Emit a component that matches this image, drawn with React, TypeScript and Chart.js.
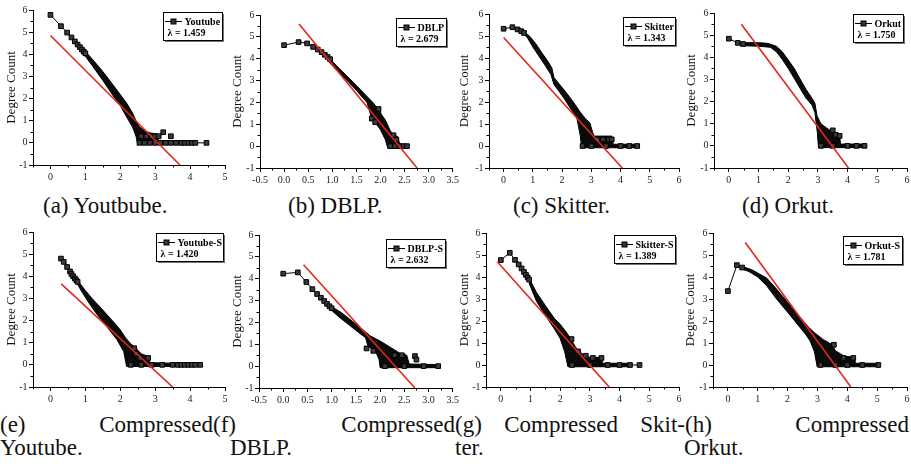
import React, { useEffect, useRef } from 'react';
import { Chart, registerables } from 'chart.js';
Chart.register(...registerables);

type Pt = [number, number];

// ---------- data (log10 degree vs log10 count) ----------
const Y_TICKS = [-1, 0, 1, 2, 3, 4, 5, 6];
const X_TICKS_5 = [0, 1, 2, 3, 4, 5];
const X_TICKS_6 = [0, 1, 2, 3, 4, 5, 6];
const X_TICKS_35 = [-0.5, 0, 0.5, 1, 1.5, 2, 2.5, 3, 3.5];

const NAMES = ['Youtube', 'DBLP', 'Skitter', 'Orkut', 'Youtube-S', 'DBLP-S', 'Skitter-S', 'Orkut-S'];
const LAMBDAS = ['1.459', '2.679', '1.343', '1.750', '1.420', '2.632', '1.389', '1.781'];

// (a) Youtube
const YT_HEAD: Pt[] = [[0, 5.78], [0.301, 5.27], [0.477, 4.98], [0.602, 4.76], [0.699, 4.58], [0.778, 4.44], [0.845, 4.32], [0.903, 4.21], [0.954, 4.12], [1.0, 4.04]];
const YT_BAND: Pt[] = [[0.95, 4.22], [1.2, 3.78], [1.5, 3.22], [1.8, 2.6], [2.0, 2.18], [2.2, 1.75], [2.35, 1.35], [2.45, 1.0], [2.55, 0.72], [2.7, 0.55], [2.85, 0.45], [3.05, 0.4], [3.1, 0.1], [3.7, 0.07],
  [3.7, -0.07], [2.5, -0.07], [2.45, 0.3], [2.35, 0.72], [2.2, 1.12], [2.0, 1.68], [1.8, 2.12], [1.5, 2.82], [1.2, 3.48], [0.95, 4.02]];
const YT_TAIL: Pt[] = [[2.55, 0], [2.7, 0], [2.85, 0], [3.0, 0], [3.15, 0], [3.3, 0], [3.45, 0], [3.6, 0], [3.75, 0], [3.85, 0], [3.95, 0], [4.05, 0], [4.15, 0], [4.47, 0]];
const YT_OUT: Pt[] = [[2.6, 0.3], [2.75, 0.3], [2.9, 0.3], [3.0, 0.3], [3.1, 0.3], [3.23, 0.48], [3.45, 0.3]];
const YT_FIT: Pt[] = [[0, 4.85], [3.71, -1]];

// (b) DBLP
const DB_HEAD: Pt[] = [[0, 4.62], [0.301, 4.76], [0.477, 4.7], [0.602, 4.54], [0.699, 4.42], [0.778, 4.3], [0.845, 4.18], [0.903, 4.08], [0.954, 3.98]];
const DB_BAND: Pt[] = [[0.9, 4.12], [1.1, 3.65], [1.3, 3.22], [1.5, 2.78], [1.7, 2.32], [1.85, 1.98], [1.92, 1.78], [1.97, 1.72], [2.02, 1.45], [2.1, 1.2], [2.2, 0.72], [2.27, 0.5], [2.35, 0.45], [2.4, 0.1], [2.55, 0.06],
  [2.55, -0.07], [2.15, -0.07], [2.1, 0.3], [2.0, 0.75], [1.9, 1.05], [1.82, 1.25], [1.72, 2.0], [1.5, 2.55], [1.3, 3.02], [1.1, 3.45], [0.9, 3.92]];
const DB_TAIL: Pt[] = [[2.2, 0], [2.3, 0], [2.4, 0], [2.48, 0], [2.55, 0]];
const DB_OUT: Pt[] = [[1.82, 1.26], [1.89, 1.1], [1.96, 1.7], [2.27, 0.5], [2.33, 0.3]];
const DB_FIT: Pt[] = [[0.31, 5.59], [2.76, -1]];

// (c) Skitter
const SK_HEAD: Pt[] = [[0, 5.33], [0.301, 5.4], [0.477, 5.3], [0.602, 5.22], [0.699, 5.14]];
const SK_BAND: Pt[] = [[0.68, 5.22], [0.9, 4.98], [1.1, 4.65], [1.3, 4.25], [1.5, 3.88], [1.65, 3.55], [1.72, 3.12], [1.9, 2.82], [2.1, 2.5], [2.3, 2.15], [2.45, 1.87], [2.6, 1.58], [2.78, 1.27], [2.95, 1.05], [3.05, 0.6], [3.1, 0.45], [3.7, 0.45], [3.75, 0.08], [4.57, 0.08],
  [4.57, -0.08], [2.67, -0.08], [2.62, 0.5], [2.5, 1.3], [2.3, 1.68], [2.1, 2.1], [1.9, 2.48], [1.72, 2.8], [1.62, 3.25], [1.4, 3.7], [1.2, 4.1], [1.0, 4.5], [0.8, 4.95], [0.68, 5.08]];
const SK_TAIL: Pt[] = [[2.7, 0], [3.0, 0], [3.5, 0], [4.0, 0], [4.3, 0], [4.57, 0]];
const SK_OUT: Pt[] = [[3.2, 0.3], [3.4, 0.3], [3.6, 0.3], [3.7, 0.3]];
const SK_FIT: Pt[] = [[0, 4.93], [4.06, -1]];

// (d) Orkut
const OR_HEAD: Pt[] = [[0, 4.84], [0.301, 4.65], [0.477, 4.6]];
const OR_BAND: Pt[] = [[0.5, 4.66], [1.0, 4.66], [1.3, 4.63], [1.6, 4.5], [1.8, 4.25], [2.0, 3.88], [2.2, 3.5], [2.4, 3.02], [2.6, 2.55], [2.8, 2.15], [2.9, 1.92], [2.97, 1.35], [3.1, 1.0], [3.3, 0.8], [3.5, 0.62], [3.73, 0.52], [3.76, 0.08], [4.57, 0.08],
  [4.57, -0.08], [3.02, -0.08], [2.98, 0.6], [2.9, 1.5], [2.8, 1.85], [2.6, 2.15], [2.4, 2.6], [2.2, 3.05], [2.0, 3.5], [1.8, 3.9], [1.6, 4.25], [1.4, 4.45], [1.0, 4.5], [0.5, 4.52]];
const OR_TAIL: Pt[] = [[3.1, 0], [3.5, 0], [4.0, 0], [4.3, 0], [4.57, 0]];
const OR_OUT: Pt[] = [[3.5, 0.7], [3.6, 0.5], [3.73, 0.45]];
const OR_FIT: Pt[] = [[0.42, 5.49], [4.03, -1]];

// (e) Youtube-S
const YS_HEAD: Pt[] = [[0.301, 4.8], [0.38, 4.65], [0.477, 4.42], [0.56, 4.22], [0.602, 4.1], [0.65, 4.0], [0.699, 3.9], [0.74, 3.82], [0.778, 3.75]];
const YS_BAND: Pt[] = [[0.77, 3.82], [1.0, 3.36], [1.2, 2.98], [1.4, 2.65], [1.6, 2.3], [1.8, 1.95], [2.0, 1.58], [2.15, 1.22], [2.3, 0.95], [2.45, 0.75], [2.6, 0.5], [2.8, 0.38], [2.85, 0.1], [3.6, 0.07],
  [3.6, -0.07], [2.18, -0.07], [2.1, 0.6], [1.9, 1.15], [1.7, 1.55], [1.5, 1.95], [1.3, 2.35], [1.1, 2.8], [0.9, 3.3], [0.77, 3.65]];
const YS_TAIL: Pt[] = [[2.3, 0], [2.6, 0], [2.9, 0], [3.2, 0], [3.5, 0], [3.65, 0], [3.75, 0], [3.85, 0], [3.95, 0], [4.05, 0], [4.15, 0], [4.29, 0]];
const YS_OUT: Pt[] = [[2.4, 0.75], [2.45, 0.5], [2.57, 0.31], [2.8, 0.31]];
const YS_FIT: Pt[] = [[0.31, 3.66], [3.5, -1]];

// (f) DBLP-S
const DS_HEAD: Pt[] = [[0, 4.23], [0.301, 4.29], [0.477, 3.85], [0.602, 3.52], [0.699, 3.3], [0.778, 3.13], [0.845, 2.98], [0.903, 2.85], [0.954, 2.74], [1.0, 2.65]];
const DS_BAND: Pt[] = [[1.0, 2.72], [1.2, 2.45], [1.4, 2.1], [1.6, 1.75], [1.8, 1.38], [2.0, 1.15], [2.2, 0.88], [2.4, 0.6], [2.55, 0.5], [2.6, 0.1], [3.2, 0.07],
  [3.2, -0.07], [2.0, -0.07], [1.98, 0.3], [1.9, 0.7], [1.75, 0.9], [1.7, 1.3], [1.55, 1.55], [1.35, 1.9], [1.15, 2.25], [1.0, 2.55]];
const DS_TAIL: Pt[] = [[2.1, 0], [2.5, 0], [2.9, 0], [3.2, 0]];
const DS_OUT: Pt[] = [[1.72, 0.81], [1.86, 0.7], [2.3, 0.5], [2.45, 0.5], [2.72, 0.46], [2.75, 0.3]];
const DS_FIT: Pt[] = [[0.42, 4.64], [2.72, -1]];

// (g) Skitter-S
const SS_HEAD: Pt[] = [[0, 4.77], [0.301, 5.1], [0.477, 4.78], [0.602, 4.57], [0.699, 4.39], [0.778, 4.23], [0.845, 4.1], [0.903, 3.98], [0.954, 3.88]];
const SS_BAND: Pt[] = [[0.95, 3.95], [1.2, 3.3], [1.5, 2.7], [1.8, 2.12], [2.0, 1.85], [2.2, 1.5], [2.35, 1.2], [2.5, 0.85], [2.6, 0.65], [2.8, 0.45], [3.0, 0.35], [3.4, 0.35], [3.42, 0.08], [4.35, 0.08],
  [4.35, -0.08], [2.26, -0.08], [2.15, 0.6], [2.0, 1.2], [1.8, 1.65], [1.5, 2.25], [1.2, 2.9], [0.95, 3.72]];
const SS_TAIL: Pt[] = [[2.4, 0], [3.0, 0], [3.6, 0], [4.0, 0], [4.35, 0], [4.67, 0]];
const SS_OUT: Pt[] = [[2.38, 1.18], [2.6, 0.62], [2.86, 0.42], [3.1, 0.32], [3.39, 0.32]];
const SS_FIT: Pt[] = [[-0.12, 4.69], [3.65, -1]];

// (h) Orkut-S
const OS_HEAD: Pt[] = [[0, 3.36], [0.301, 4.54], [0.477, 4.43]];
const OS_BAND: Pt[] = [[0.5, 4.47], [0.8, 4.33], [1.0, 4.18], [1.3, 3.95], [1.6, 3.5], [2.0, 2.85], [2.4, 2.2], [2.7, 1.72], [2.9, 1.47], [3.2, 1.15], [3.5, 0.92], [3.6, 0.65], [3.9, 0.4], [4.25, 0.35], [4.27, 0.08], [5.05, 0.08],
  [5.05, -0.08], [2.99, -0.08], [2.9, 0.6], [2.75, 1.1], [2.6, 1.4], [2.3, 1.9], [2.0, 2.4], [1.6, 3.05], [1.3, 3.6], [1.0, 4.0], [0.7, 4.25], [0.5, 4.35]];
const OS_TAIL: Pt[] = [[3.1, 0], [3.6, 0], [4.0, 0], [4.5, 0], [5.04, 0]];
const OS_OUT: Pt[] = [[3.55, 0.92], [3.87, 0.32], [4.2, 0.32]];
const OS_FIT: Pt[] = [[0.58, 5.57], [4.12, -1]];

const CAPTIONS_TOP = ['(a) Youtbube.', '(b) DBLP.', '(c) Skitter.', '(d) Orkut.'];
const CAPTIONS_BOTTOM_1 = ['(e) Compressed', '(f) Compressed', '(g) Compressed Skit-', '(h) Compressed'];
const CAPTIONS_BOTTOM_2 = ['Youtube.', 'DBLP.', 'ter.', 'Orkut.'];

// ---------- layout ----------
const FONT = '"Liberation Serif", "Times New Roman", serif';
const PAD_T = 8;
const PAD_R = 8;
const X_AXIS_H = 22;

interface PanelCfg {
  name: string; lambda: string;
  head: Pt[]; band: Pt[]; tail: Pt[]; out: Pt[]; fit: Pt[];
  xMin: number; xMax: number; xTicks: number[]; dec: number;
  cl: number; L: number; R: number; T: number; B: number;
  lx: number; ly: number;
}

const PANELS: PanelCfg[] = [
  { name: NAMES[0], lambda: LAMBDAS[0], head: YT_HEAD, band: YT_BAND, tail: YT_TAIL, out: YT_OUT, fit: YT_FIT, xMin: -0.5, xMax: 5, xTicks: X_TICKS_5, dec: 0, cl: 0, L: 33, R: 225, T: 10, B: 165, lx: 3, ly: 2 },
  { name: NAMES[1], lambda: LAMBDAS[1], head: DB_HEAD, band: DB_BAND, tail: DB_TAIL, out: DB_OUT, fit: DB_FIT, xMin: -0.5, xMax: 3.5, xTicks: X_TICKS_35, dec: 1, cl: 226, L: 260, R: 453, T: 15, B: 168, lx: 7, ly: 3 },
  { name: NAMES[2], lambda: LAMBDAS[2], head: SK_HEAD, band: SK_BAND, tail: SK_TAIL, out: SK_OUT, fit: SK_FIT, xMin: -0.5, xMax: 6, xTicks: X_TICKS_6, dec: 0, cl: 453, L: 489, R: 679, T: 14, B: 168, lx: 4, ly: 3 },
  { name: NAMES[3], lambda: LAMBDAS[3], head: OR_HEAD, band: OR_BAND, tail: OR_TAIL, out: OR_OUT, fit: OR_FIT, xMin: -0.5, xMax: 6, xTicks: X_TICKS_6, dec: 0, cl: 680, L: 714, R: 907, T: 13, B: 168, lx: 4, ly: 1 },
  { name: NAMES[4], lambda: LAMBDAS[4], head: YS_HEAD, band: YS_BAND, tail: YS_TAIL, out: YS_OUT, fit: YS_FIT, xMin: -0.5, xMax: 5, xTicks: X_TICKS_5, dec: 0, cl: 0, L: 33, R: 225, T: 232, B: 387, lx: 2, ly: 1 },
  { name: NAMES[5], lambda: LAMBDAS[5], head: DS_HEAD, band: DS_BAND, tail: DS_TAIL, out: DS_OUT, fit: DS_FIT, xMin: -0.5, xMax: 3.5, xTicks: X_TICKS_35, dec: 1, cl: 226, L: 259, R: 453, T: 235, B: 388, lx: 8, ly: 4 },
  { name: NAMES[6], lambda: LAMBDAS[6], head: SS_HEAD, band: SS_BAND, tail: SS_TAIL, out: SS_OUT, fit: SS_FIT, xMin: -0.5, xMax: 6, xTicks: X_TICKS_6, dec: 0, cl: 453, L: 486, R: 679, T: 233, B: 387, lx: 4, ly: 2 },
  { name: NAMES[7], lambda: LAMBDAS[7], head: OS_HEAD, band: OS_BAND, tail: OS_TAIL, out: OS_OUT, fit: OS_FIT, xMin: -0.5, xMax: 6, xTicks: X_TICKS_6, dec: 0, cl: 679, L: 713, R: 907, T: 233, B: 387, lx: 5, ly: 3 },
];

const toXY = (a: Pt[]) => a.map(([x, y]) => ({ x, y }));

const legendBox = {
  id: 'legendBox',
  afterDatasetsDraw(chart: any, _a: any, o: any) {
    const { ctx, chartArea: ca } = chart;
    ctx.save();
    ctx.font = `bold 10px ${FONT}`;
    const nameW = ctx.measureText(o.name).width;
    const lam = 'λ = ' + o.lambda;
    const lamW = ctx.measureText(lam).width;
    const w = Math.round(Math.max(nameW + 23, lamW + 8));
    const h = 28;
    const x = Math.round(ca.right - o.dx - w) + 0.5;
    const y = Math.round(ca.top + o.dy) + 0.5;
    ctx.fillStyle = '#777';
    ctx.fillRect(x + 1.5, y + 1.5, w, h);
    ctx.fillStyle = '#fff';
    ctx.fillRect(x, y, w, h);
    ctx.strokeStyle = '#000';
    ctx.lineWidth = 1;
    ctx.strokeRect(x, y, w, h);
    ctx.beginPath();
    ctx.moveTo(x + 1.5, y + 9);
    ctx.lineTo(x + 18.5, y + 9);
    ctx.stroke();
    ctx.fillStyle = '#333';
    ctx.fillRect(x + 7.5, y + 6.5, 5, 5);
    ctx.strokeRect(x + 7.5, y + 6.5, 5, 5);
    ctx.fillStyle = '#000';
    ctx.textBaseline = 'middle';
    ctx.textAlign = 'left';
    ctx.fillText(o.name, x + 21, y + 9.5);
    ctx.fillText(lam, x + 4, y + 21);
    ctx.restore();
  },
};

const minorTicks = {
  id: 'minorTicks',
  afterDraw(chart: any) {
    const { ctx } = chart;
    const xs = chart.scales.x;
    const ys = chart.scales.y;
    ctx.save();
    ctx.strokeStyle = '#000';
    ctx.lineWidth = 1;
    ctx.beginPath();
    const xv = xs.ticks.map((t: any) => t.value);
    const xstep = xv[1] - xv[0];
    for (let v = xv[0] - xstep / 2; v <= xs.max + 1e-9; v += xstep) {
      if (v < xs.min - 1e-9) continue;
      const px = Math.round(xs.getPixelForValue(v)) + 0.5;
      ctx.moveTo(px, xs.top);
      ctx.lineTo(px, xs.top + 2.5);
    }
    const yv = ys.ticks.map((t: any) => t.value);
    const ystep = yv[1] - yv[0];
    for (let v = yv[0] - ystep / 2; v <= ys.max + 1e-9; v += ystep) {
      if (v < ys.min - 1e-9) continue;
      const py = Math.round(ys.getPixelForValue(v)) + 0.5;
      ctx.moveTo(ys.right, py);
      ctx.lineTo(ys.right - 2.5, py);
    }
    ctx.stroke();
    ctx.restore();
  },
};

const MARK = { pointStyle: 'rect', pointRadius: 3.3, pointBackgroundColor: '#3a3a3a', pointBorderColor: '#000', pointBorderWidth: 1 };

function Panel({ p }: { p: PanelCfg }) {
  const ref = useRef<HTMLCanvasElement>(null);
  const ct = p.T - PAD_T;
  const cw = p.R + PAD_R - p.cl;
  const ch = p.B + X_AXIS_H - ct;
  const yW = p.L - p.cl;
  useEffect(() => {
    const chart = new Chart(ref.current as HTMLCanvasElement, {
      type: 'scatter',
      data: {
        datasets: [
          { data: toXY(p.fit), showLine: true, borderColor: '#e3261b', borderWidth: 1.6, pointRadius: 0, order: 0 },
          { data: toXY(p.head), showLine: true, borderColor: '#000', borderWidth: 1, ...MARK, order: 1 },
          { data: toXY(p.out), showLine: false, ...MARK, order: 2 },
          { data: toXY(p.tail), showLine: true, borderColor: '#000', borderWidth: 1, ...MARK, order: 3 },
          { data: toXY(p.band), showLine: true, fill: 'shape', backgroundColor: '#0b0b0b', borderColor: '#000', borderWidth: 1, pointRadius: 0, order: 4 },
        ] as any,
      },
      options: {
        responsive: false,
        animation: false,
        events: [],
        layout: { padding: { top: PAD_T, right: PAD_R, left: 0, bottom: 0 } },
        plugins: {
          legend: { display: false },
          tooltip: { enabled: false },
          legendBox: { name: p.name, lambda: p.lambda, dx: p.lx, dy: p.ly },
        } as any,
        scales: {
          x: {
            type: 'linear',
            min: p.xMin,
            max: p.xMax,
            afterBuildTicks: (s: any) => { s.ticks = p.xTicks.map((v) => ({ value: v })); },
            afterFit: (s: any) => { s.height = X_AXIS_H; },
            grid: { drawOnChartArea: false, drawTicks: true, tickLength: 4, color: '#000' },
            border: { display: true, color: '#000', width: 1 },
            ticks: {
              font: { family: FONT, size: 10 },
              color: '#222',
              padding: 2,
              maxRotation: 0,
              autoSkip: false,
              callback: (v: any) => Number(v).toFixed(p.dec),
            },
          },
          y: {
            type: 'linear',
            min: -1,
            max: 6,
            afterBuildTicks: (s: any) => { s.ticks = Y_TICKS.map((v) => ({ value: v })); },
            afterFit: (s: any) => { s.width = yW; },
            grid: { drawOnChartArea: false, drawTicks: true, tickLength: 4, color: '#000' },
            border: { display: true, color: '#000', width: 1 },
            title: { display: true, text: 'Degree Count', font: { family: FONT, size: 13 }, color: '#111', padding: { top: 4, bottom: 0 } },
            ticks: {
              font: { family: FONT, size: 10 },
              color: '#222',
              padding: 1.5,
              autoSkip: false,
              callback: (v: any) => String(v),
            },
          },
        },
      } as any,
      plugins: [legendBox, minorTicks],
    });
    return () => chart.destroy();
  }, []);
  return (
    <canvas
      ref={ref}
      width={cw}
      height={ch}
      style={{ position: 'absolute', left: p.cl, top: ct, width: cw, height: ch }}
    />
  );
}

const capStyle: React.CSSProperties = {
  position: 'absolute',
  fontFamily: FONT,
  fontSize: 23,
  lineHeight: '23px',
  color: '#111',
  whiteSpace: 'nowrap',
};

const TOP_LEFTS = [43, 288, 513, 742];
const BOT1 = [[0, 213], [213, 242], [455, 230], [685, 224]];
const BOT2 = [0, 230, 455, 684];

export default function App() {
  return (
    <div style={{ position: 'absolute', left: 0, top: 0, width: 911, height: 468, overflow: 'hidden', background: '#fff' }}>
      {PANELS.map((p, i) => <Panel key={i} p={p} />)}
      {CAPTIONS_TOP.map((t, i) => (
        <div key={'t' + i} style={{ ...capStyle, left: TOP_LEFTS[i], top: 194 }}>{t}</div>
      ))}
      {CAPTIONS_BOTTOM_1.map((t, i) => (
        <div key={'b1' + i} style={{ ...capStyle, whiteSpace: 'normal', left: BOT1[i][0], width: BOT1[i][1], top: 413, textAlign: 'justify', textAlignLast: 'justify' as any }}>{t}</div>
      ))}
      {CAPTIONS_BOTTOM_2.map((t, i) => (
        <div key={'b2' + i} style={{ ...capStyle, left: BOT2[i], top: 436 }}>{t}</div>
      ))}
    </div>
  );
}
